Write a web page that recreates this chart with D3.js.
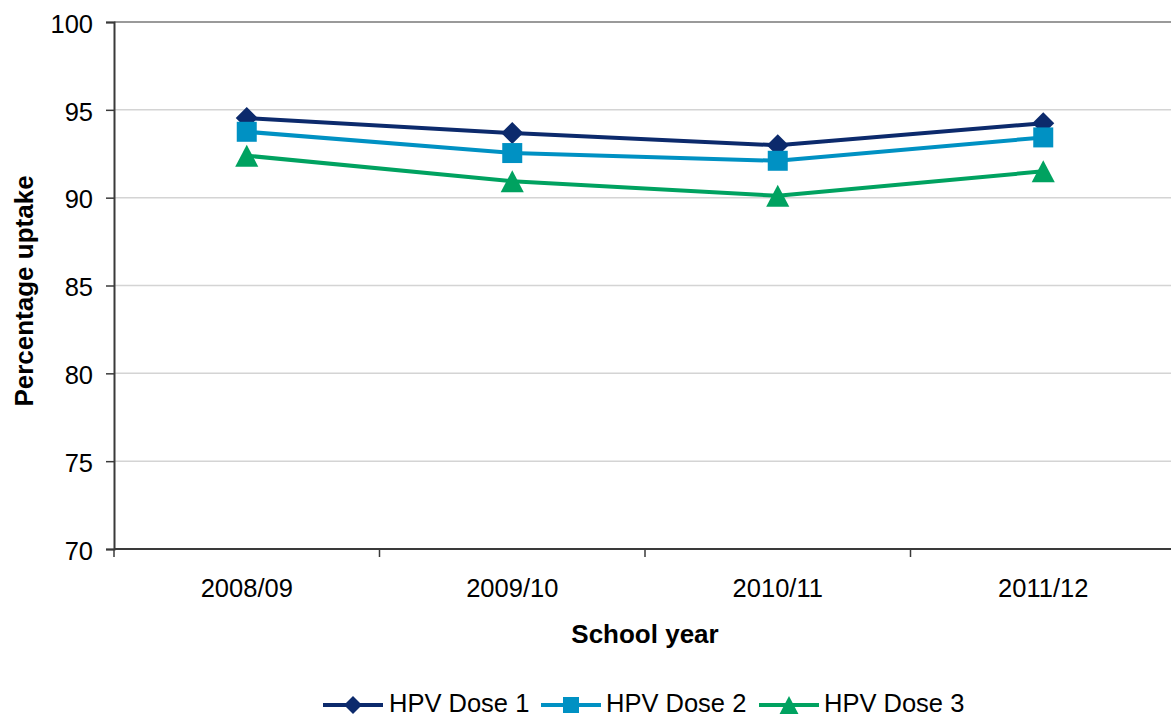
<!DOCTYPE html>
<html>
<head>
<meta charset="utf-8">
<script src="https://cdn.jsdelivr.net/npm/d3@7"></script>
<style>
  html, body { margin: 0; padding: 0; background: #fff; }
  svg { display: block; font-family: "Liberation Sans", Arial, sans-serif; }
</style>
</head>
<body>
<svg id="chart" width="1171" height="717"></svg>
<script>
// School years on the x axis
const schoolYears = ["2008/09", "2009/10", "2010/11", "2011/12"];

// Uptake (%) per dose and school year
const dose1 = [94.53, 93.68, 92.98, 94.24];
const dose2 = [93.75, 92.54, 92.10, 93.43];
const dose3 = [92.39, 90.93, 90.11, 91.50];

const seriesNames = ["HPV Dose 1", "HPV Dose 2", "HPV Dose 3"];
const yTicks = [70, 75, 80, 85, 90, 95, 100];

const series = [
  { name: seriesNames[0], values: dose1, color: "#0c2a6c", marker: "diamond" },
  { name: seriesNames[1], values: dose2, color: "#0091c3", marker: "square" },
  { name: seriesNames[2], values: dose3, color: "#00a260", marker: "triangle" }
];

const svg = d3.select("#chart");
const plot = { left: 114, right: 1176, top: 22, bottom: 549 };
const fontSize = 25.5;
const titleSize = 26;

const x = d3.scaleBand().domain(schoolYears).range([plot.left, plot.right]).padding(0);
const y = d3.scaleLinear().domain([70, 100]).range([plot.bottom, plot.top]);

// Horizontal gridlines
svg.append("g")
  .selectAll("line")
  .data(yTicks.filter(t => t > 70))
  .join("line")
  .attr("x1", plot.left).attr("x2", plot.right)
  .attr("y1", d => y(d)).attr("y2", d => y(d))
  .attr("stroke", d => d === 100 ? "#9a9a9a" : "#d4d4d4")
  .attr("stroke-width", d => d === 100 ? 2 : 1.5);

// Y axis
const yAxis = svg.append("g")
  .attr("transform", `translate(${plot.left},0)`)
  .call(d3.axisLeft(y).tickValues(yTicks).tickSize(8).tickPadding(13).tickFormat(d3.format("d")));
yAxis.select(".domain").attr("stroke", "#3a3a3a").attr("stroke-width", 2);
yAxis.selectAll(".tick line").attr("stroke", "#3a3a3a").attr("stroke-width", 1.5);
yAxis.selectAll(".tick text")
  .attr("font-size", fontSize).attr("fill", "#000")
  .attr("font-family", "'Liberation Sans', Arial, sans-serif")
  .attr("dy", "0.4em");

// X axis: ticks sit on the band boundaries
const bounds = schoolYears.map(c => x(c)).concat([plot.right]);
const xg = svg.append("g");
xg.append("line")
  .attr("x1", plot.left).attr("x2", plot.right)
  .attr("y1", plot.bottom).attr("y2", plot.bottom)
  .attr("stroke", "#3a3a3a").attr("stroke-width", 2);
xg.selectAll("line.tick")
  .data(bounds)
  .join("line")
  .attr("class", "tick")
  .attr("x1", d => d).attr("x2", d => d)
  .attr("y1", plot.bottom).attr("y2", plot.bottom + 8)
  .attr("stroke", "#3a3a3a").attr("stroke-width", 1.5);
xg.selectAll("text")
  .data(schoolYears)
  .join("text")
  .attr("x", d => x(d) + x.bandwidth() / 2)
  .attr("y", plot.bottom + 48)
  .attr("text-anchor", "middle")
  .attr("font-size", fontSize)
  .attr("fill", "#000")
  .text(d => d);

// Axis titles
svg.append("text")
  .attr("x", 645).attr("y", 643)
  .attr("text-anchor", "middle")
  .attr("font-size", titleSize).attr("font-weight", "bold")
  .text("School year");

svg.append("text")
  .attr("transform", "translate(33,291) rotate(-90)")
  .attr("text-anchor", "middle")
  .attr("font-size", titleSize).attr("font-weight", "bold")
  .text("Percentage uptake");

// Marker shapes
function markerPath(type, size) {
  const h = size / 2;
  if (type === "diamond") return `M0,${-h}L${h},0L0,${h}L${-h},0Z`;
  if (type === "square") return `M${-h},${-h}H${h}V${h}H${-h}Z`;
  // triangle, centred on its bounding box
  return `M0,${-h}L${h * 1.05},${h}L${-h * 1.05},${h}Z`;
}

const line = d3.line()
  .x((d, i) => x(schoolYears[i]) + x.bandwidth() / 2)
  .y(d => y(d));

series.forEach(s => {
  const g = svg.append("g");
  g.append("path")
    .datum(s.values)
    .attr("d", line)
    .attr("fill", "none")
    .attr("stroke", s.color)
    .attr("stroke-width", 4)
    .attr("stroke-linejoin", "round");
  g.selectAll("path.mk")
    .data(s.values)
    .join("path")
    .attr("class", "mk")
    .attr("transform", (d, i) => `translate(${x(schoolYears[i]) + x.bandwidth() / 2},${y(d)})`)
    .attr("d", markerPath(s.marker, s.marker === "square" ? 20 : 22))
    .attr("fill", s.color);
});

// Legend
const legendY = 705;
const legendItems = [
  { x0: 323, x1: 383, tx: 389 },
  { x0: 541, x1: 601, tx: 606 },
  { x0: 759, x1: 819, tx: 824 }
];
series.forEach((s, i) => {
  const it = legendItems[i];
  const g = svg.append("g");
  g.append("line")
    .attr("x1", it.x0).attr("x2", it.x1)
    .attr("y1", legendY).attr("y2", legendY)
    .attr("stroke", s.color).attr("stroke-width", 4);
  g.append("path")
    .attr("transform", `translate(${(it.x0 + it.x1) / 2},${legendY})`)
    .attr("d", markerPath(s.marker, s.marker === "square" ? 16 : 18))
    .attr("fill", s.color);
  g.append("text")
    .attr("x", it.tx).attr("y", legendY + 7)
    .attr("font-size", fontSize)
    .attr("fill", "#000")
    .text(s.name);
});
</script>
</body>
</html>
